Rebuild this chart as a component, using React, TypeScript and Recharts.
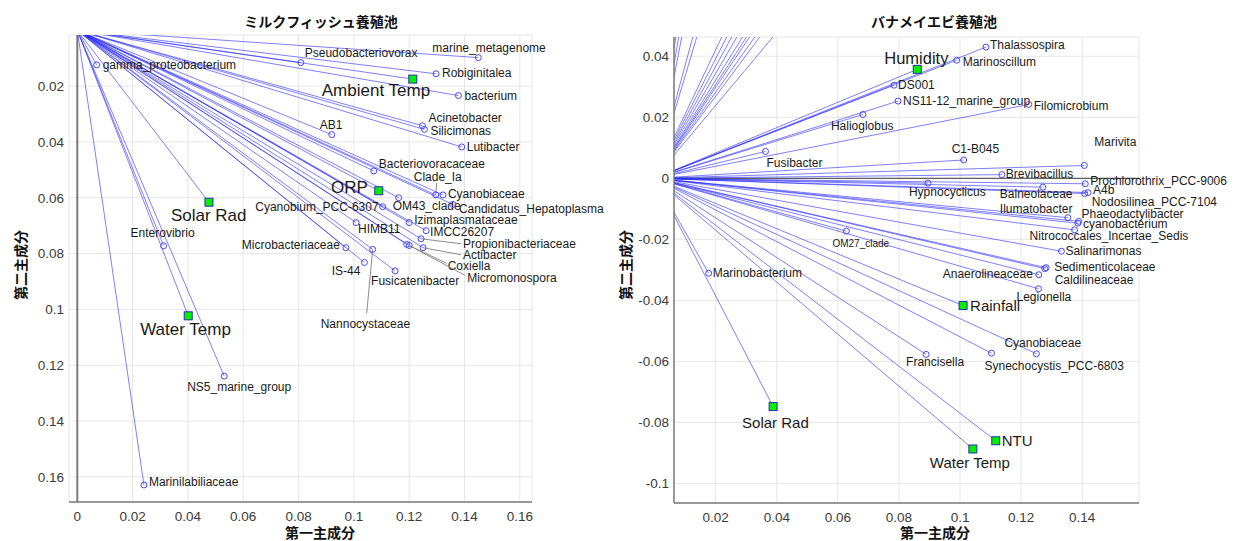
import { ScatterChart, Scatter, XAxis, YAxis, CartesianGrid, ReferenceLine } from 'recharts';

type Vec = { name: string; x: number; y: number };
type Place = { dx: number; dy: number; anchor?: 'start' | 'middle' | 'end'; size?: number; leader?: [number, number] };

// ミルクフィッシュ養殖池 (left panel, PC2 axis runs downward)
const milkfishTaxa: Vec[] = [
  { name: 'gamma_proteobacterium', x: 0.007, y: 0.0124 },
  { name: 'Pseudobacteriovorax', x: 0.0808, y: 0.0116 },
  { name: 'marine_metagenome', x: 0.145, y: 0.0098 },
  { name: 'Robiginitalea', x: 0.1297, y: 0.0156 },
  { name: 'bacterium', x: 0.1378, y: 0.0234 },
  { name: 'AB1', x: 0.092, y: 0.0374 },
  { name: 'Acinetobacter', x: 0.1248, y: 0.0342 },
  { name: 'Silicimonas', x: 0.1255, y: 0.0355 },
  { name: 'Lutibacter', x: 0.139, y: 0.0418 },
  { name: 'Bacteriovoracaceae', x: 0.1072, y: 0.0504 },
  { name: 'Clade_Ia', x: 0.1296, y: 0.059 },
  { name: 'Cyanobiaceae', x: 0.1322, y: 0.059 },
  { name: 'OM43_clade', x: 0.1162, y: 0.06 },
  { name: 'Candidatus_Hepatoplasma', x: 0.1358, y: 0.0624 },
  { name: 'Cyanobium_PCC-6307', x: 0.1104, y: 0.0632 },
  { name: 'Izimaplasmataceae', x: 0.12, y: 0.0689 },
  { name: 'HIMB11', x: 0.1008, y: 0.0689 },
  { name: 'IMCC26207', x: 0.1261, y: 0.0718 },
  { name: 'Propionibacteriaceae', x: 0.1243, y: 0.0747 },
  { name: 'Actibacter', x: 0.125, y: 0.0779 },
  { name: 'Coxiella', x: 0.1191, y: 0.0767 },
  { name: 'Micromonospora', x: 0.12, y: 0.0771 },
  { name: 'Microbacteriaceae', x: 0.0971, y: 0.0779 },
  { name: 'Nannocystaceae', x: 0.1068, y: 0.0785 },
  { name: 'IS-44', x: 0.1038, y: 0.0832 },
  { name: 'Fusicatenibacter', x: 0.1149, y: 0.0862 },
  { name: 'Enterovibrio', x: 0.0312, y: 0.0772 },
  { name: 'NS5_marine_group', x: 0.0531, y: 0.1239 },
  { name: 'Marinilabiliaceae', x: 0.0241, y: 0.1629 },
];

const milkfishEnv: Vec[] = [
  { name: 'Ambient Temp', x: 0.1213, y: 0.0175 },
  { name: 'ORP', x: 0.109, y: 0.0575 },
  { name: 'Solar Rad', x: 0.0476, y: 0.0616 },
  { name: 'Water Temp', x: 0.0401, y: 0.1023 },
];

const milkfishXTicks = [0, 0.02, 0.04, 0.06, 0.08, 0.1, 0.12, 0.14, 0.16];
const milkfishYTicks = [0.02, 0.04, 0.06, 0.08, 0.1, 0.12, 0.14, 0.16];

// バナメイエビ養殖池 (right panel)
const shrimpTaxa: Vec[] = [
  { name: 'Thalassospira', x: 0.1085, y: 0.043 },
  { name: 'Marinoscillum', x: 0.0989, y: 0.0387 },
  { name: 'DS001', x: 0.0784, y: 0.0305 },
  { name: 'NS11-12_marine_group', x: 0.0797, y: 0.0253 },
  { name: 'Filomicrobium', x: 0.1225, y: 0.0242 },
  { name: 'Halioglobus', x: 0.0682, y: 0.0209 },
  { name: 'Fusibacter', x: 0.0363, y: 0.0088 },
  { name: 'C1-B045', x: 0.1012, y: 0.006 },
  { name: 'Marivita', x: 0.1407, y: 0.0042 },
  { name: 'Brevibacillus', x: 0.1137, y: 0.0012 },
  { name: 'Prochlorothrix_PCC-9006', x: 0.141, y: -0.0018 },
  { name: 'Hypnocyclicus', x: 0.0895, y: -0.0016 },
  { name: 'Balneolaceae', x: 0.1271, y: -0.0029 },
  { name: 'A4b', x: 0.1419, y: -0.0047 },
  { name: 'Nodosilinea_PCC-7104', x: 0.1408, y: -0.005 },
  { name: 'Ilumatobacter', x: 0.1353, y: -0.0129 },
  { name: 'Phaeodactylibacter', x: 0.1388, y: -0.0141 },
  { name: 'cyanobacterium', x: 0.1386, y: -0.0147 },
  { name: 'Nitrococcales_Incertae_Sedis', x: 0.1375, y: -0.0169 },
  { name: 'Salinarimonas', x: 0.1332, y: -0.0239 },
  { name: 'Sedimenticolaceae', x: 0.1282, y: -0.0293 },
  { name: 'Caldilineaceae', x: 0.1277, y: -0.0296 },
  { name: 'Anaerolineaceae', x: 0.1258, y: -0.0316 },
  { name: 'OM27_clade', x: 0.0628, y: -0.0173 },
  { name: 'Legionella', x: 0.1257, y: -0.0362 },
  { name: 'Marinobacterium', x: 0.0177, y: -0.0311 },
  { name: 'Francisella', x: 0.0889, y: -0.0577 },
  { name: 'Synechocystis_PCC-6803', x: 0.1103, y: -0.0573 },
  { name: 'Cyanobiaceae', x: 0.125, y: -0.0575 },
];

const shrimpEnv: Vec[] = [
  { name: 'Humidity', x: 0.086, y: 0.0357 },
  { name: 'Rainfall', x: 0.101, y: -0.0417 },
  { name: 'Solar Rad', x: 0.0388, y: -0.0748 },
  { name: 'NTU', x: 0.1117, y: -0.086 },
  { name: 'Water Temp', x: 0.1042, y: -0.0887 },
];

// taxa whose tips sit above the plotted range, only their rays show
const shrimpOffscale: Vec[] = [
  { name: '', x: 0.009, y: 0.06 },
  { name: '', x: 0.0102, y: 0.06 },
  { name: '', x: 0.0115, y: 0.06 },
  { name: '', x: 0.0162, y: 0.06 },
  { name: '', x: 0.0179, y: 0.06 },
  { name: '', x: 0.0285, y: 0.06 },
  { name: '', x: 0.0306, y: 0.06 },
  { name: '', x: 0.0327, y: 0.06 },
  { name: '', x: 0.0349, y: 0.06 },
  { name: '', x: 0.0373, y: 0.06 },
  { name: '', x: 0.039, y: 0.06 },
  { name: '', x: 0.0403, y: 0.06 },
  { name: '', x: 0.0425, y: 0.06 },
  { name: '', x: 0.0446, y: 0.06 },
  { name: '', x: 0.0502, y: 0.06 },
];

const shrimpXTicks = [0.02, 0.04, 0.06, 0.08, 0.1, 0.12, 0.14];
const shrimpYTicks = [-0.1, -0.08, -0.06, -0.04, -0.02, 0, 0.02, 0.04];

// label placement relative to each marker
const milkfishPlaces: Record<string, Place> = {
  gamma_proteobacterium: { dx: 6, dy: 0 },
  Pseudobacteriovorax: { dx: 4, dy: -10 },
  marine_metagenome: { dx: -46, dy: -10 },
  Robiginitalea: { dx: 6, dy: -1 },
  bacterium: { dx: 6, dy: 0 },
  AB1: { dx: -12, dy: -10 },
  Acinetobacter: { dx: 6, dy: -8 },
  Silicimonas: { dx: 6, dy: 1 },
  Lutibacter: { dx: 5, dy: 0 },
  Bacteriovoracaceae: { dx: 5, dy: -7 },
  Clade_Ia: { dx: -22, dy: -18, leader: [1, -12] },
  Cyanobiaceae: { dx: 5, dy: -1 },
  OM43_clade: { dx: -6, dy: 8 },
  Candidatus_Hepatoplasma: { dx: 6, dy: 4 },
  'Cyanobium_PCC-6307': { dx: -4, dy: 0, anchor: 'end' },
  Izimaplasmataceae: { dx: 5, dy: -3 },
  HIMB11: { dx: 2, dy: 6 },
  IMCC26207: { dx: 4, dy: 1 },
  Propionibacteriaceae: { dx: 42, dy: 5, leader: [40, 5] },
  Actibacter: { dx: 40, dy: 7, leader: [38, 7] },
  Coxiella: { dx: 41, dy: 21, leader: [40, 19] },
  Micromonospora: { dx: 58, dy: 32, leader: [56, 30] },
  Microbacteriaceae: { dx: -6, dy: -3, anchor: 'end' },
  Nannocystaceae: { dx: -52, dy: 74, leader: [-6, 64] },
  'IS-44': { dx: -4, dy: 8, anchor: 'end' },
  Fusicatenibacter: { dx: -24, dy: 10 },
  Enterovibrio: { dx: -33, dy: -13 },
  NS5_marine_group: { dx: -37, dy: 11 },
  Marinilabiliaceae: { dx: 5, dy: -3 },
  'Ambient Temp': { dx: -91, dy: 11, size: 17 },
  ORP: { dx: -11, dy: -4, anchor: 'end', size: 17 },
  'Solar Rad': { dx: -38, dy: 13, size: 17 },
  'Water Temp': { dx: -48, dy: 13, size: 17 },
};

const shrimpPlaces: Record<string, Place> = {
  Thalassospira: { dx: 4, dy: -2 },
  Marinoscillum: { dx: 6, dy: 2 },
  DS001: { dx: 4, dy: 0 },
  'NS11-12_marine_group': { dx: 5, dy: 0 },
  Filomicrobium: { dx: 5, dy: 1 },
  Halioglobus: { dx: -32, dy: 11 },
  Fusibacter: { dx: 1, dy: 11 },
  'C1-B045': { dx: -12, dy: -11 },
  Marivita: { dx: 10, dy: -24 },
  Brevibacillus: { dx: 4, dy: -1 },
  'Prochlorothrix_PCC-9006': { dx: 5, dy: -3 },
  Hypnocyclicus: { dx: -19, dy: 9 },
  Balneolaceae: { dx: -43, dy: 7 },
  A4b: { dx: 5, dy: -3 },
  'Nodosilinea_PCC-7104': { dx: 7, dy: 8 },
  Ilumatobacter: { dx: -68, dy: -9 },
  Phaeodactylibacter: { dx: 3, dy: -8 },
  cyanobacterium: { dx: 5, dy: 1 },
  Nitrococcales_Incertae_Sedis: { dx: -45, dy: 6 },
  Salinarimonas: { dx: 4, dy: 0 },
  Sedimenticolaceae: { dx: 8, dy: -1 },
  Caldilineaceae: { dx: 10, dy: 11 },
  Anaerolineaceae: { dx: -6, dy: -1, anchor: 'end' },
  OM27_clade: { dx: -14, dy: 12, size: 10 },
  Legionella: { dx: -22, dy: 8 },
  Marinobacterium: { dx: 4, dy: 0 },
  Francisella: { dx: -20, dy: 7 },
  'Synechocystis_PCC-6803': { dx: -7, dy: 13 },
  Cyanobiaceae: { dx: -32, dy: -11 },
  Humidity: { dx: -33, dy: -11, size: 16.5 },
  Rainfall: { dx: 7, dy: 0, size: 15 },
  'Solar Rad': { dx: -31, dy: 16, size: 15 },
  NTU: { dx: 6, dy: 0, size: 15 },
  'Water Temp': { dx: -43, dy: 14, size: 15 },
};

const RAY = '#2a2aff';
const FONT = '"Liberation Sans", Arial, sans-serif';
const CJK = '"Noto Sans CJK JP", sans-serif';
const AXIS = '#7a7a7a';

function label(p: Place, cx: number, cy: number, text: string) {
  return (
    <>
      {p.leader && (
        <line x1={cx} y1={cy} x2={cx + p.leader[0]} y2={cy + p.leader[1]} stroke="#8c8c8c" strokeWidth={1} />
      )}
      <text
        x={cx + p.dx}
        y={cy + p.dy}
        dy="0.35em"
        textAnchor={p.anchor ?? 'start'}
        fontSize={p.size ?? 12}
        fontFamily={FONT}
        fill="#1a1a1a"
      >
        {text}
      </text>
    </>
  );
}

const taxonShape = (places: Record<string, Place>) => (props: any) => {
  const { cx, cy, payload } = props;
  const p = places[payload.name] ?? { dx: 5, dy: 0 };
  return (
    <g>
      {label(p, cx, cy, payload.name)}
      <circle cx={cx} cy={cy} r={3} fill="none" stroke="#4646ff" strokeWidth={1} />
    </g>
  );
};

const envShape = (places: Record<string, Place>) => (props: any) => {
  const { cx, cy, payload } = props;
  const p = places[payload.name] ?? { dx: 6, dy: 0, size: 16 };
  return (
    <g>
      <rect x={cx - 4} y={cy - 4} width={8} height={8} fill="#00f000" stroke="#2b2bb0" strokeWidth={1} />
      {label(p, cx, cy, payload.name)}
    </g>
  );
};

interface BiplotProps {
  taxa: Vec[];
  env: Vec[];
  offscale?: Vec[];
  places: Record<string, Place>;
  xDomain: [number, number];
  yDomain: [number, number];
  xTicks: number[];
  yTicks: number[];
  reversed?: boolean;
  width: number;
  margin: { top: number; right: number; bottom: number; left: number };
  yAxisWidth: number;
  xAxisHeight: number;
  zeroAxis: 'x' | 'y';
}

function Biplot(props: BiplotProps) {
  const { taxa, env, offscale = [], places, width, margin, zeroAxis } = props;
  const rays = [...offscale, ...taxa, ...env];
  return (
    <ScatterChart width={width} height={541} margin={margin}>
      <CartesianGrid stroke="#e6e6e6" />
      <XAxis
        type="number"
        dataKey="x"
        domain={props.xDomain}
        ticks={props.xTicks}
        height={props.xAxisHeight}
        axisLine={{ stroke: AXIS, strokeWidth: 1.5 }}
        tickLine={false}
        tickSize={6}
        tickMargin={3}
        tick={{ fill: '#3a3a3a', fontSize: 13.5, fontFamily: FONT }}
      />
      <YAxis
        type="number"
        dataKey="y"
        domain={props.yDomain}
        ticks={props.yTicks}
        reversed={props.reversed}
        width={props.yAxisWidth}
        axisLine={zeroAxis === 'x' ? false : { stroke: AXIS, strokeWidth: 1.5 }}
        tickLine={false}
        tickSize={3}
        tickMargin={2}
        tick={{ fill: '#3a3a3a', fontSize: 13.5, fontFamily: FONT }}
      />
      {zeroAxis === 'x' ? (
        <ReferenceLine x={0} stroke={AXIS} strokeWidth={2} />
      ) : (
        <ReferenceLine y={0} stroke="#3a3a3a" strokeWidth={1} />
      )}
      {rays.map((d, i) => (
        <ReferenceLine
          key={i}
          segment={[{ x: 0, y: 0 }, { x: d.x, y: d.y }]}
          stroke={RAY}
          strokeOpacity={0.6}
          strokeWidth={1}
          ifOverflow="hidden"
        />
      ))}
      <Scatter data={taxa} shape={taxonShape(places)} isAnimationActive={false} />
      <Scatter data={env} shape={envShape(places)} isAnimationActive={false} />
    </ScatterChart>
  );
}

const titleStyle = {
  position: 'absolute' as const,
  transform: 'translate(-50%, -50%)',
  fontFamily: CJK,
  fontWeight: 700,
  fontSize: 14,
  lineHeight: 1,
  whiteSpace: 'nowrap' as const,
  color: '#111',
};

export default function App() {
  return (
    <div style={{ position: 'absolute', left: 0, top: 0, width: 1241, height: 541, background: '#fff', overflow: 'hidden' }}>
      <div style={{ position: 'absolute', left: 600, top: 0 }}>
        <Biplot
          taxa={shrimpTaxa}
          env={shrimpEnv}
          offscale={shrimpOffscale}
          places={shrimpPlaces}
          xDomain={[0.00635, 0.1586]}
          yDomain={[-0.1064, 0.0463]}
          xTicks={shrimpXTicks}
          yTicks={shrimpYTicks}
          width={641}
          margin={{ top: 37, right: 102, bottom: 0, left: 0 }}
          yAxisWidth={74}
          xAxisHeight={38}
          zeroAxis="y"
        />
      </div>
      <div style={{ position: 'absolute', left: 0, top: 0 }}>
        <Biplot
          taxa={milkfishTaxa}
          env={milkfishEnv}
          places={milkfishPlaces}
          xDomain={[-0.003, 0.1644]}
          yDomain={[0.0017, 0.169]}
          xTicks={milkfishXTicks}
          yTicks={milkfishYTicks}
          reversed
          width={615}
          margin={{ top: 35, right: 83, bottom: 0, left: 0 }}
          yAxisWidth={69}
          xAxisHeight={39}
          zeroAxis="x"
        />
      </div>
      <div style={{ ...titleStyle, left: 321, top: 21 }}>ミルクフィッシュ養殖池</div>
      <div style={{ ...titleStyle, left: 934, top: 21 }}>バナメイエビ養殖池</div>
      <div style={{ ...titleStyle, left: 320, top: 532 }}>第一主成分</div>
      <div style={{ ...titleStyle, left: 935, top: 532 }}>第一主成分</div>
      <div style={{ ...titleStyle, left: 20, top: 265, transform: 'translate(-50%, -50%) rotate(-90deg)' }}>第二主成分</div>
      <div style={{ ...titleStyle, left: 625, top: 265, transform: 'translate(-50%, -50%) rotate(-90deg)' }}>第二主成分</div>
    </div>
  );
}
